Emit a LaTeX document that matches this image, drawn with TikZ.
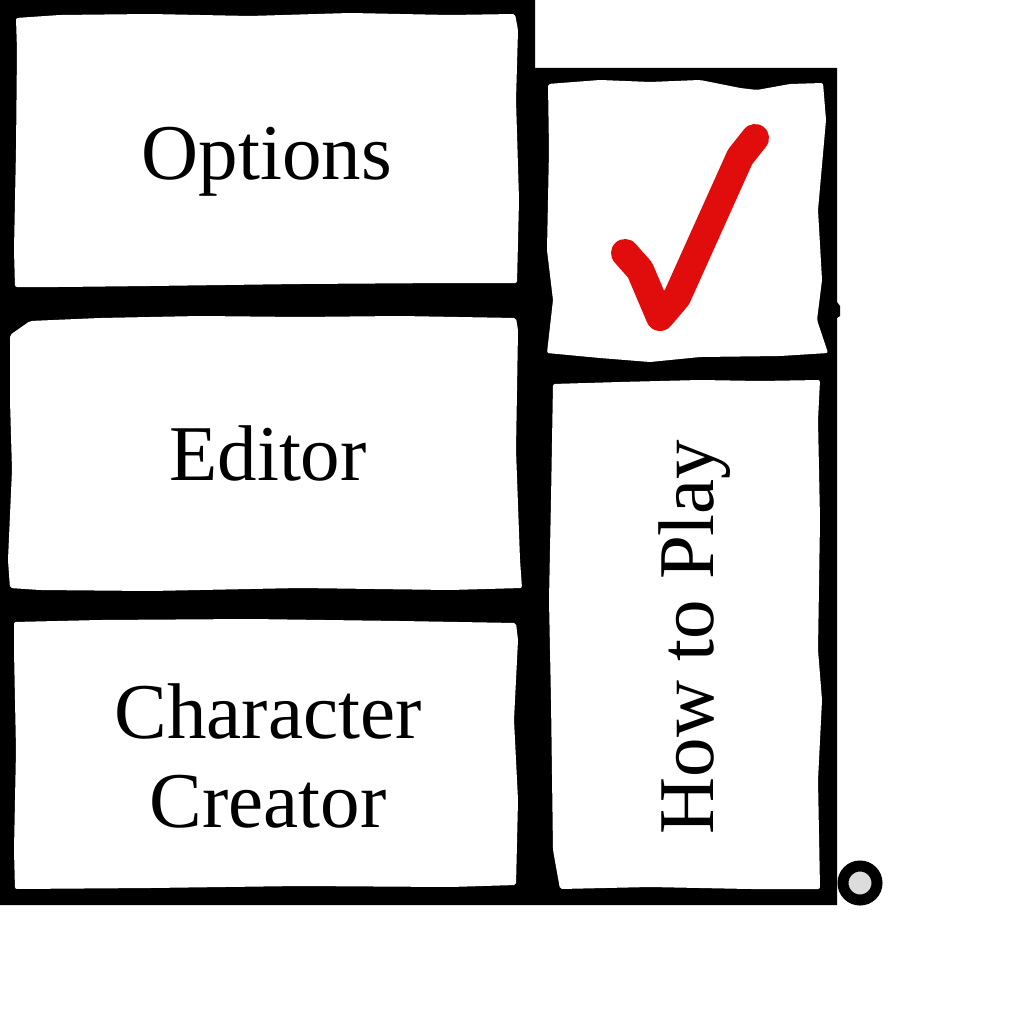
\documentclass[tikz,border=0pt]{standalone}
\usepackage{fontspec}
\setmainfont{Liberation Serif}
\definecolor{checkred}{HTML}{E10C0C}
\definecolor{ringgray}{HTML}{DCDCDC}
\tikzset{
  frame/.style={fill=black},
  paper/.style={fill=white, rounded corners=2pt},
  label/.style={font=\fontsize{79}{89}\selectfont, inner sep=0pt, text=black},
  tick/.style={draw=checkred, line width=28pt, line cap=round, line join=round},
  ring/.style={draw=black, line width=11pt, fill=ringgray},
}
\begin{document}
\begin{tikzpicture}[x=1pt,y=-1pt]
\useasboundingbox (0,0) rectangle (1024,1024);
\fill[white] (0,0) rectangle (1024,1024);
% black frame
\fill[frame] (0,0) -- (535,0) -- (535,68) -- (837,68) -- (837,302) -- (840,306) -- (840,316) -- (837,318) -- (837,905) -- (0,905) -- cycle;
% Options box
\fill[paper] (16,18) -- (60,15) -- (150,14) -- (250,16) -- (350,13) -- (450,15) -- (515,14)
  -- (518,30) -- (516,100) -- (519,200) -- (517,283)
  -- (450,283) -- (300,284) -- (150,286) -- (60,287) -- (15,287)
  -- (14,250) -- (16,150) -- (17,50) -- cycle;
% Editor box
\fill[paper] (30,321) -- (100,318) -- (200,316) -- (300,317) -- (400,316) -- (516,318)
  -- (518,330) -- (516,450) -- (520,560) -- (522,588)
  -- (450,590) -- (300,588) -- (150,591) -- (40,590) -- (10,588)
  -- (8,560) -- (12,470) -- (10,400) -- (10,335) -- cycle;
% Character Creator box
\fill[paper] (14,622) -- (100,620) -- (250,619) -- (400,621) -- (516,623)
  -- (518,640) -- (514,720) -- (518,800) -- (516,885)
  -- (450,887) -- (300,886) -- (150,888) -- (15,889)
  -- (14,850) -- (16,750) -- (14,650) -- cycle;
% Check box
\fill[paper] (548,84) -- (600,80) -- (650,82) -- (700,80) -- (740,88) -- (757,90) -- (790,84) -- (823,83)
  -- (826,120) -- (818,210) -- (822,280) -- (817,320) -- (828,353)
  -- (780,356) -- (700,357) -- (650,362) -- (600,358) -- (547,353)
  -- (553,300) -- (547,250) -- (549,150) -- cycle;
% How to Play box
\fill[paper] (553,384) -- (620,382) -- (700,380) -- (760,381) -- (820,380)
  -- (818,420) -- (820,520) -- (818,650) -- (822,700) -- (818,780) -- (820,889)
  -- (750,889) -- (650,887) -- (560,889)
  -- (553,850) -- (551,700) -- (549,600) -- (551,500) -- cycle;
% check mark
\draw[tick] (625,253) -- (640,270) -- (660,317) -- (677,297) -- (740,157) -- (755,138);
% labels
\node[label, anchor=base] (options) at (267,180) {Options};
\node[label, anchor=base] (editor) at (268,480) {Editor};
\node[label, align=center, anchor=center] (creator) at (268,756) {Character\\Creator};
\node[label, rotate=90, anchor=base] (howto) at (713,637) {How to Play};
% small ring
\draw[ring] (860,883) circle[radius=17];
\end{tikzpicture}
\end{document}
